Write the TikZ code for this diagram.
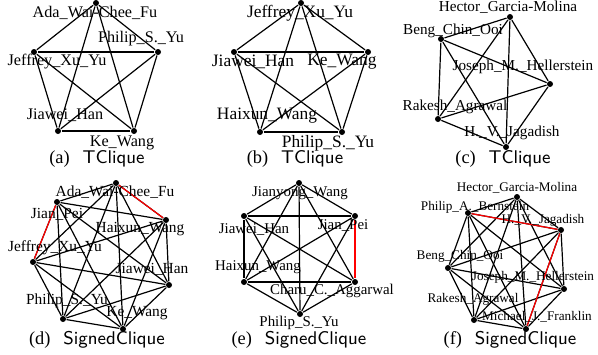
\documentclass[tikz,border=0pt]{standalone}
\usepackage{fontspec}
\setmainfont{Liberation Serif}
\usetikzlibrary{positioning}

\tikzset{
  vtx/.style={circle,fill=black,inner sep=0pt,minimum size=3pt},
  lbl/.style={inner sep=0pt},
  capt/.style={inner sep=0pt,font=\fontsize{9.2}{10}\selectfont},
  neg/.style={red},
}
% every pair of the nodes #11 ... #1#2
\newcommand{\cliqueedges}[2]{%
  \foreach \i in {1,...,#2}{\foreach \j in {1,...,#2}{\ifnum\i<\j \draw (#1\i) -- (#1\j);\fi}}}
\newcommand{\subcap}[2]{(#1)\hspace{0.7em}\textsf{#2}}

\begin{document}
\begin{tikzpicture}[x=0.5pt,y=-0.5pt,line width=0.6pt]
  \path[use as bounding box] (0,0) rectangle (598,354);

  % (a) TClique
  \begin{scope}[lbl/.append style={font=\fontsize{8.1}{9}\selectfont}]
    \foreach \n/\x/\y in {1/96/3,2/158/52,3/34/52,4/58/131,5/134/131} \node[vtx] (a\n) at (\x,\y) {};
    \cliqueedges{a}{5}
    \node[lbl] (la1) at (95,13) {Ada\_Wai-Chee\_Fu};
    \node[lbl] (la2) at (141,39) {Philip\_S.\_Yu};
    \node[lbl] (la3) at (57,62) {Jeffrey\_Xu\_Yu};
    \node[lbl] (la4) at (65,115) {Jiawei\_Han};
    \node[lbl] (la5) at (122,143) {Ke\_Wang};
    \node[capt] (capa) at (97,159) {\subcap{a}{TClique}};
  \end{scope}

  % (b) TClique
  \begin{scope}[lbl/.append style={font=\fontsize{8.7}{9}\selectfont}]
    \foreach \n/\x/\y in {1/301/3,2/234/52,3/368/52,4/260/132,5/342/132} \node[vtx] (b\n) at (\x,\y) {};
    \cliqueedges{b}{5}
    \node[lbl] (lb1) at (300,13) {Jeffrey\_Xu\_Yu};
    \node[lbl] (lb2) at (253,62) {Jiawei\_Han};
    \node[lbl] (lb3) at (342,62) {Ke\_Wang};
    \node[lbl] (lb4) at (267,116) {Haixun\_Wang};
    \node[lbl] (lb5) at (328,143) {Philip\_S.\_Yu};
    \node[capt] (capb) at (295,159) {\subcap{b}{TClique}};
  \end{scope}

  % (c) TClique
  \begin{scope}[lbl/.append style={font=\fontsize{7.6}{9}\selectfont}]
    \foreach \n/\x/\y in {1/510/17,2/441/39,3/550/84,4/438/119,5/506/147} \node[vtx] (c\n) at (\x,\y) {};
    \cliqueedges{c}{5}
    \node[lbl] (lc1) at (508,7) {Hector\_Garcia-Molina};
    \node[lbl] (lc2) at (453,31) {Beng\_Chin\_Ooi};
    \node[lbl] (lc3) at (523,67) {Joseph\_M.\_Hellerstein};
    \node[lbl] (lc4) at (455,107) {Rakesh\_Agrawal};
    \node[lbl] (lc5) at (512,133) {H.\_V.\_Jagadish};
    \node[capt] (capc) at (503,159) {\subcap{c}{TClique}};
  \end{scope}

  % (d) SignedClique
  \begin{scope}[lbl/.append style={font=\fontsize{7.7}{9}\selectfont}]
    \foreach \n/\x/\y in {1/116/183,2/57/202,3/166/220,4/33/262,5/169/285,6/63/319,7/123/329} \node[vtx] (d\n) at (\x,\y) {};
    \cliqueedges{d}{7}
    \draw[neg] (d1) -- (d3);
    \draw[neg] (d2) -- (d4);
    \node[lbl] (ld1) at (115,192) {Ada\_Wai-Chee\_Fu};
    \node[lbl] (ld2) at (57,214) {Jian\_Pei};
    \node[lbl] (ld3) at (140,229) {Haixun\_Wang};
    \node[lbl] (ld4) at (55,248) {Jeffrey\_Xu\_Yu};
    \node[lbl] (ld5) at (152,269) {Jiawei\_Han};
    \node[lbl] (ld6) at (67,301) {Philip\_S.\_Yu};
    \node[lbl] (ld7) at (137,313) {Ke\_Wang};
    \node[capt] (capd) at (97,340) {\subcap{d}{SignedClique}};
  \end{scope}

  % (e) SignedClique
  \begin{scope}[lbl/.append style={font=\fontsize{7.45}{9}\selectfont}]
    \foreach \n/\x/\y in {1/299/183,2/244/216,3/355/216,4/244/282,5/355/282,6/300/314} \node[vtx] (e\n) at (\x,\y) {};
    \cliqueedges{e}{6}
    \draw[neg] (e3) -- (e5);
    \node[lbl] (le1) at (300,193) {Jianyong\_Wang};
    \node[lbl] (le2) at (254,230) {Jiawei\_Han};
    \node[lbl] (le3) at (343,226) {Jian\_Pei};
    \node[lbl] (le4) at (258,267) {Haixun\_Wang};
    \node[lbl] (le5) at (332,291) {Charu\_C.\_Aggarwal};
    \node[lbl] (le6) at (299,323) {Philip\_S.\_Yu};
    \node[capt] (cape) at (299,340) {\subcap{e}{SignedClique}};
  \end{scope}

  % (f) SignedClique
  \begin{scope}[lbl/.append style={font=\fontsize{6.6}{8}\selectfont}]
    \foreach \n/\x/\y in {1/517/197,2/468/213,3/561/230,4/448/268,5/564/289,6/474/320,7/526/329} \node[vtx] (f\n) at (\x,\y) {};
    \cliqueedges{f}{7}
    \draw[neg] (f2) -- (f3);
    \draw[neg] (f3) -- (f7);
    \node[lbl] (lf1) at (517,188) {Hector\_Garcia-Molina};
    \node[lbl] (lf2) at (475,207) {Philip\_A.\_Bernstein};
    \node[lbl] (lf3) at (543,220) {H.\_V.\_Jagadish};
    \node[lbl] (lf4) at (460,256) {Beng\_Chin\_Ooi};
    \node[lbl] (lf5) at (533,277) {Joseph\_M.\_Hellerstein};
    \node[lbl] (lf6) at (473,299) {Rakesh\_Agrawal};
    \node[lbl] (lf7) at (537,317) {Michael\_J.\_Franklin};
    \node[capt] (capf) at (510,340) {\subcap{f}{SignedClique}};
  \end{scope}
\end{tikzpicture}
\end{document}
